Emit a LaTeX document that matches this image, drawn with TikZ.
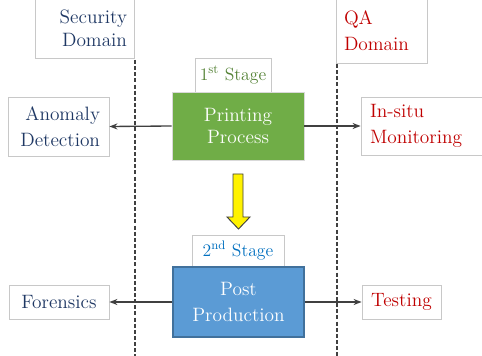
\documentclass[tikz,border=0pt]{standalone}
\usepackage{xcolor}
\usetikzlibrary{arrows.meta,positioning,calc}
\definecolor{SD}{HTML}{1F3864}
\definecolor{QD}{HTML}{C00000}
\definecolor{GA}{HTML}{70AD47}
\definecolor{GT}{HTML}{548235}
\definecolor{BA}{HTML}{5B9BD5}
\definecolor{BE}{HTML}{41719C}
\definecolor{BT}{HTML}{0070C0}
\definecolor{LN}{HTML}{404040}
\definecolor{FR}{HTML}{C8C8C8}

\begin{document}
\begin{tikzpicture}[x=0.75pt,y=-0.75pt,
    txtbox/.style={draw=FR, fill=white, line width=0.6pt, inner ysep=0pt,
      font=\fontsize{14.5}{17}\selectfont},
    stagebox/.style={draw=FR, fill=white, line width=0.6pt, inner sep=0pt,
      font=\fontsize{13.25}{16}\selectfont},
    link/.style={draw=LN, line width=1pt, -{Stealth[length=6pt,width=4.5pt]}},
    split/.style={draw=LN, line width=0.9pt, dash pattern=on 3pt off 1.6pt}]
  \useasboundingbox (0,0) rectangle (482,356);
  % domain dividers
  \draw[split] (135,60) -- (135,356);
  \draw[split] (337,64) -- (337,356);
  % domain headers
  \node[txtbox, text=SD, align=right, text width=63.75pt, inner xsep=5.25pt,
    minimum height=45pt] (secdom) at (84.5,28) {Security\\Domain};
  \node[txtbox, text=QD, align=left, text width=56.25pt, inner xsep=6pt,
    minimum height=48.75pt, font=\fontsize{14.5}{19.5}\selectfont]
    (qadom) at (381.5,30.5) {QA\\Domain};
  % stage 1
  \node[stagebox, text=GT, minimum width=57pt, minimum height=25.5pt]
    (stage1) at (233,75) {1\textsuperscript{st} Stage};
  \node[draw=FR!70, fill=GA, text=white, line width=0.6pt, minimum width=99pt,
    minimum height=51pt, inner sep=0pt, align=center,
    font=\fontsize{14.5}{17}\selectfont] (print) at (238,126) {Printing\\Process};
  \node[txtbox, text=SD, align=right, text width=62.25pt, inner xsep=6.75pt,
    minimum height=44.25pt, font=\fontsize{14.5}{19.25}\selectfont]
    (anomaly) at (58.5,126.5) {Anomaly\\Detection};
  \node[txtbox, text=QD, align=left, text width=78.75pt, inner xsep=6.75pt,
    minimum height=43.5pt, font=\fontsize{14.5}{19.5}\selectfont]
    (insitu) at (422.5,126) {In-situ\\Monitoring};
  \draw[link] (print.west) -- (anomaly.east);
  \draw[link] (print.east) -- (insitu.west);
  % flow to stage 2
  \filldraw[fill=yellow, draw=LN, line width=0.7pt]
    (233,174) -- (243,174) -- (243,217) -- (250,217) -- (238.5,229)
    -- (227,217) -- (233,217) -- cycle;
  % stage 2
  \node[stagebox, text=BT, minimum width=69pt, minimum height=24pt]
    (stage2) at (238,251) {2\textsuperscript{nd} Stage};
  \node[draw=BE, fill=BA, text=white, line width=0.8pt, minimum width=98.25pt,
    minimum height=52.5pt, inner sep=0pt, align=center,
    font=\fontsize{14.5}{19.25}\selectfont] (post) at (238.5,302) {Post\\Production};
  \node[txtbox, text=SD, minimum width=75pt, minimum height=25.5pt]
    (forens) at (59,302) {Forensics};
  \node[txtbox, text=QD, minimum width=59.25pt, minimum height=25.5pt]
    (testing) at (401.5,302) {Testing};
  \draw[link] (post.west) -- (forens.east);
  \draw[link] (post.east) -- (testing.west);
\end{tikzpicture}
\end{document}
